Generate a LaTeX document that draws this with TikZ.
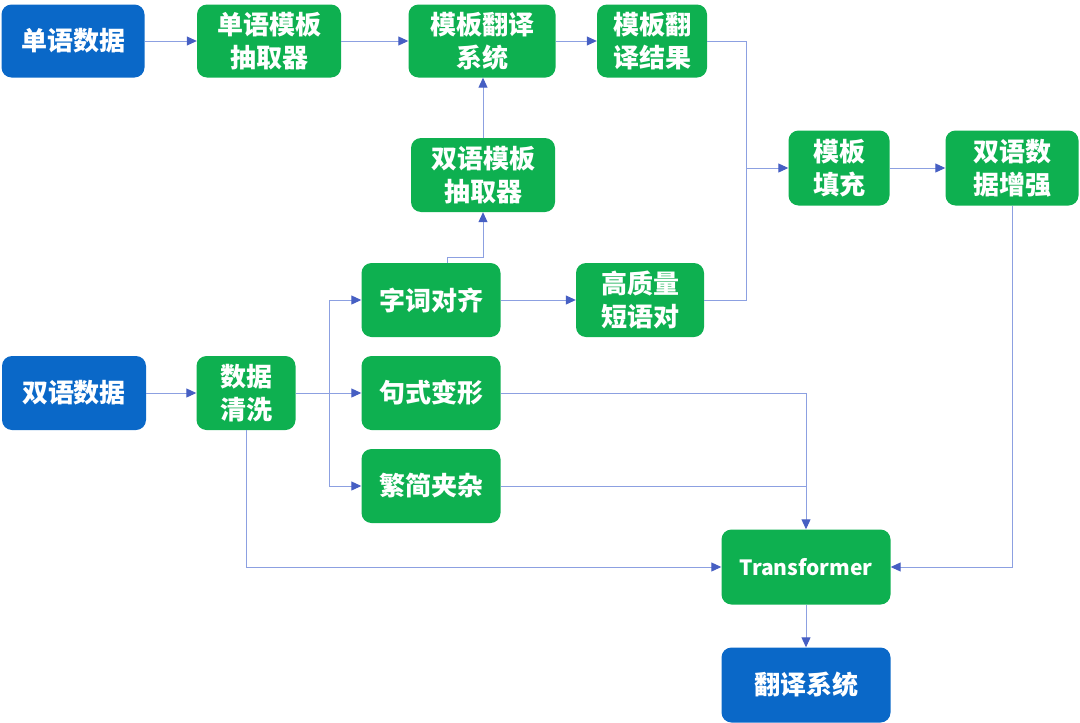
\documentclass[tikz,border=0pt]{standalone}
\usepackage{fontspec}
\setmainfont{Noto Sans CJK SC}
\usetikzlibrary{arrows.meta}
\definecolor{bbox}{RGB}{10,104,200}
\definecolor{gbox}{RGB}{14,176,80}
\definecolor{lnc}{RGB}{140,160,225}
\definecolor{arc}{RGB}{70,95,195}
\tikzset{
  box/.style={rounded corners=10pt, draw=none, text=white, align=center,
    font=\fontsize{26}{33}\selectfont\bfseries, inner sep=0pt},
  bluebox/.style={box, fill=bbox},
  greenbox/.style={box, fill=gbox},
  conn/.style={draw=lnc, line width=1pt},
  arr/.style={conn, -{Triangle[length=10pt,width=9pt,fill=arc,color=arc]}}
}
\begin{document}
\begin{tikzpicture}[x=1pt,y=-1pt]
\useasboundingbox (0,0) rectangle (1080,723);
\node[bluebox, minimum width=143pt, minimum height=73pt] (d1) at (73,41) {单语数据};
\node[greenbox, minimum width=144pt, minimum height=73pt] (e1) at (269,41) {单语模板\\抽取器};
\node[greenbox, minimum width=147pt, minimum height=73pt] (mt) at (482,41) {模板翻译\\系统};
\node[greenbox, minimum width=110pt, minimum height=73pt] (mr) at (652,41) {模板翻\\译结果};
\node[greenbox, minimum width=144pt, minimum height=74pt] (bt) at (483,175) {双语模板\\抽取器};
\node[greenbox, minimum width=101pt, minimum height=75pt] (tc) at (839,168) {模板\\填充};
\node[greenbox, minimum width=133pt, minimum height=75pt] (aug) at (1012,168) {双语数\\据增强};
\node[greenbox, minimum width=139pt, minimum height=74pt] (zc) at (431,300) {字词对齐};
\node[greenbox, minimum width=128pt, minimum height=74pt] (hq) at (640,300) {高质量\\短语对};
\node[bluebox, minimum width=144pt, minimum height=74pt] (d2) at (74,393) {双语数据};
\node[greenbox, minimum width=99pt, minimum height=74pt] (qx) at (246,393) {数据\\清洗};
\node[greenbox, minimum width=139pt, minimum height=74pt] (sx) at (431,393) {句式变形};
\node[greenbox, minimum width=139pt, minimum height=74pt] (fj) at (431,486) {繁简夹杂};
\node[greenbox, minimum width=169pt, minimum height=75pt, font=\fontsize{21}{26}\selectfont\bfseries] (tf) at (806,567) {Transformer};
\node[bluebox, minimum width=169pt, minimum height=75pt] (fy) at (806,685) {翻译系统};

\coordinate (j1) at (746,168);
\coordinate (b) at (329,393);
\coordinate (k) at (447,257);
\coordinate (j2) at (806,486);

\draw[arr] (d1) -- (e1);
\draw[arr] (e1) -- (mt);
\draw[arr] (mt) -- (mr);
\draw[conn] (mr.east) -| (j1);
\draw[conn] (hq.east) -| (j1);
\draw[arr] (j1) -- (tc.west);
\draw[arr] (tc) -- (aug);
\draw[arr] (aug.south) |- (tf.east);
\draw[arr] (bt.north) -- (bt.north |- mt.south);
\draw[arr] (zc.north -| k) -- (k) -| (bt.south);
\draw[arr] (zc) -- (hq);
\draw[arr] (d2) -- (qx);
\draw[arr] (qx.east) -- (sx.west);
\draw[arr] (b) |- (zc.west);
\draw[arr] (b) |- (fj.west);
\draw[arr] (sx.east) -| (tf.north);
\draw[conn] (fj.east) -- (j2);
\draw[arr] (qx.south) |- (tf.west);
\draw[arr] (tf) -- (fy);
\end{tikzpicture}
\end{document}
